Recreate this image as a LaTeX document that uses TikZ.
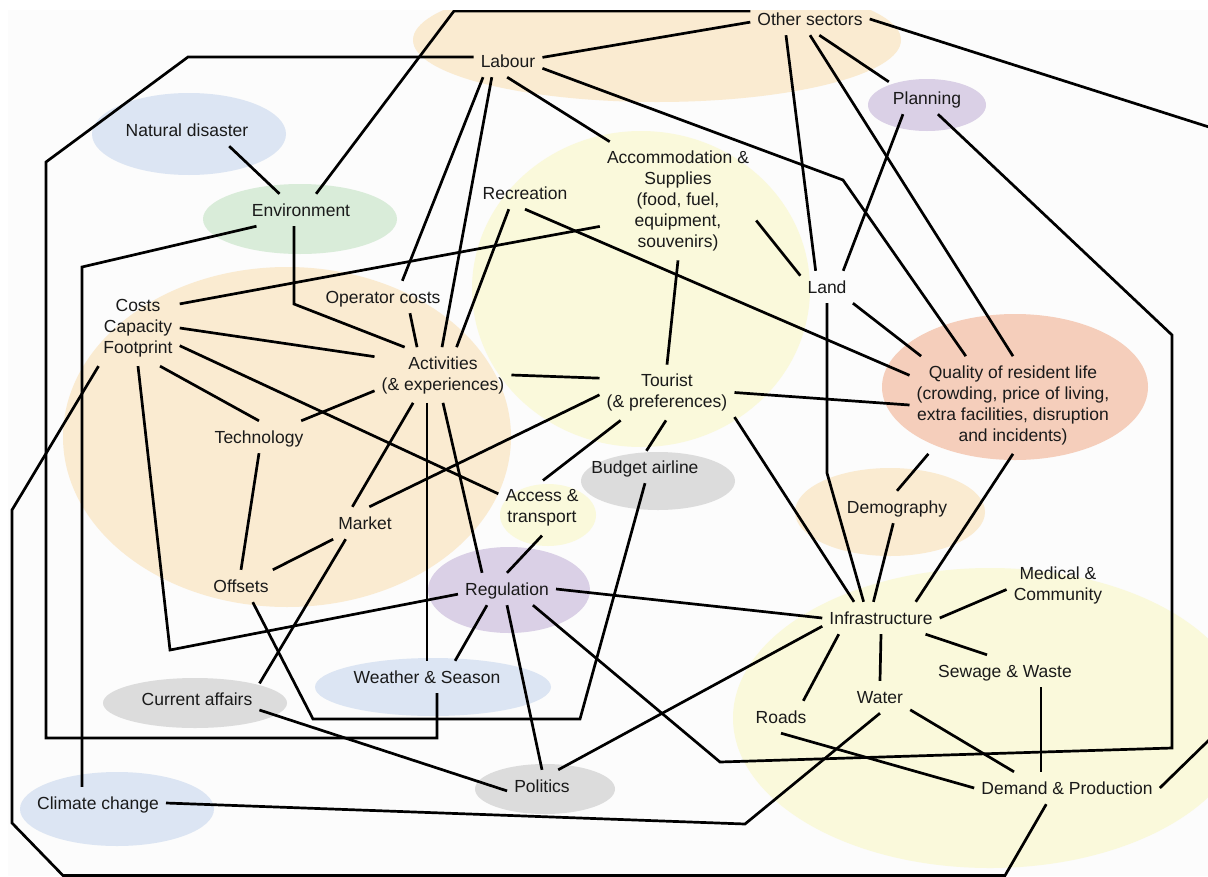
\documentclass[tikz,border=0pt]{standalone}
\usepackage{fontspec}
\setmainfont{Liberation Sans}
\definecolor{canvasbg}{HTML}{FCFCFC}
\definecolor{bgbeige}{HTML}{FAEBD1}
\definecolor{bgyellow}{HTML}{FAF9DB}
\definecolor{bgblue}{HTML}{DCE5F3}
\definecolor{bggreen}{HTML}{D9ECD9}
\definecolor{bglav}{HTML}{DAD0E6}
\definecolor{bggrey}{HTML}{DCDCDC}
\definecolor{bgsalmon}{HTML}{F5CEBB}
\definecolor{labeltext}{HTML}{1A1A1A}
\begin{document}
\begin{tikzpicture}[x=1pt,y=-1pt,
  lbl/.style={text=labeltext, font=\fontsize{17.5}{21}\selectfont, align=center,
              inner xsep=7pt, inner ysep=9pt},
  sgl/.style={lbl, text height=13pt, text depth=1pt},
  link/.style={draw=black, line width=2.7pt, line join=miter},
  blob/.style={fill=#1}]

\useasboundingbox (0,0) rectangle (1208,876);
\fill[white] (0,0) rectangle (1208,876);
\clip (8,10) rectangle (1208,876);
\fill[canvasbg] (8,10) rectangle (1208,876);

% large background regions
\fill[blob=bgbeige]  (287,437) ellipse [x radius=224pt, y radius=170pt];
\fill[blob=bgyellow] (641,289) ellipse [x radius=169pt, y radius=158pt];
\fill[blob=bgyellow] (990,718) ellipse [x radius=257pt, y radius=150pt];
\fill[blob=bgbeige]  (657,40)  ellipse [x radius=244pt, y radius=62pt];

% smaller highlighted factors
\fill[blob=bgblue]   (189,134) ellipse [x radius=97pt, y radius=41pt];
\fill[blob=bggreen]  (300,219) ellipse [x radius=97pt, y radius=35pt];
\fill[blob=bglav]    (927,105) ellipse [x radius=59pt, y radius=26pt];
\fill[blob=bgsalmon] (1015,387) ellipse [x radius=133pt, y radius=73pt];
\fill[blob=bggrey]   (658,481) ellipse [x radius=77pt, y radius=29pt];
\fill[blob=bgyellow] (548,515) ellipse [x radius=48pt, y radius=31pt];
\fill[blob=bgbeige]  (890,512) ellipse [x radius=95pt, y radius=44pt];
\fill[blob=bglav]    (509,590) ellipse [x radius=81pt, y radius=43pt];
\fill[blob=bgblue]   (433,687) ellipse [x radius=118pt, y radius=29pt];
\fill[blob=bggrey]   (195,703) ellipse [x radius=92pt, y radius=25pt];
\fill[blob=bggrey]   (545,789) ellipse [x radius=70pt, y radius=25pt];
\fill[blob=bgblue]   (117,809) ellipse [x radius=97pt, y radius=37pt];

% factors
\node[sgl] (oth)  at (810,19)  {Other sectors};
\node[sgl] (lab)  at (508,61)  {Labour};
\node[sgl] (plan) at (927,98)  {Planning};
\node[sgl] (nat)  at (187,130) {Natural disaster};
\node[sgl] (env)  at (301,210) {Environment};
\node[sgl] (rec)  at (525,193) {Recreation};
\node[lbl] (acc)  at (678,201) {Accommodation \&\\Supplies\\(food, fuel,\\equipment,\\souvenirs)};
\node[sgl] (land) at (827,287) {Land};
\node[lbl] (cost) at (138,328) {Costs\\Capacity\\Footprint};
\node[sgl] (opc)  at (383,297) {Operator costs};
\node[lbl] (act)  at (443,375) {Activities\\(\& experiences)};
\node[lbl] (tour) at (667,392.5) {Tourist\\(\& preferences)};
\node[lbl] (qual) at (1013,405) {Quality of resident life\\(crowding, price of living,\\extra facilities, disruption\\and incidents)};
\node[sgl] (tech) at (259,437) {Technology};
\node[sgl] (bud)  at (645,467) {Budget airline};
\node[lbl] (accs) at (542,508) {Access \&\\transport};
\node[sgl] (dem)  at (897,507) {Demography};
\node[sgl] (mkt)  at (365,523) {Market};
\node[lbl] (med)  at (1058,585) {Medical \&\\Community};
\node[sgl] (off)  at (241,586) {Offsets};
\node[sgl] (reg)  at (507,589) {Regulation};
\node[sgl] (inf)  at (881,618) {Infrastructure};
\node[sgl] (sew)  at (1005,671) {Sewage \& Waste};
\node[sgl] (wea)  at (427,677) {Weather \& Season};
\node[sgl] (wat)  at (880,697) {Water};
\node[sgl] (cur)  at (197,699) {Current affairs};
\node[sgl] (road) at (781,717) {Roads};
\node[sgl] (pol)  at (542,786) {Politics};
\node[sgl] (demp) at (1067,788) {Demand \& Production};
\node[sgl] (clim) at (98,803)  {Climate change};

% bend points of routed connectors
\coordinate (b1) at (188,57);
\coordinate (b2) at (46,162);
\coordinate (b3) at (46,738);
\coordinate (b4) at (437,738);
\coordinate (e1) at (454,11);
\coordinate (e2) at (82,267);
\coordinate (e3) at (294,304);
\coordinate (q1) at (843,180);
\coordinate (r1) at (1300,156);
\coordinate (r2) at (1250,700);
\coordinate (p1) at (1172,335);
\coordinate (p2) at (1172,748);
\coordinate (p3) at (720,762);
\coordinate (f1) at (170,650);
\coordinate (g1) at (12,510);
\coordinate (g2) at (12,823);
\coordinate (g3) at (63,875.5);
\coordinate (g4) at (1005,875.5);
\coordinate (o1) at (313,719);
\coordinate (o2) at (580,719);
\coordinate (l1) at (827,473);
\coordinate (s1) at (1041,730);
\coordinate (c1) at (745,824);

% routed connectors
\draw[link] (lab.west |- b1) -- (b1) -- (b2) -- (b3) -- (b4) -- (wea.south -| b4);
\draw[link] (env.47) -- (e1) -- (oth.west |- e1);
\draw[link] (env.200) -- (e2) -- (clim.north -| e2);
\draw[link] (env.south -| e3) -- (e3) -- (act.144);
\draw[link] (lab.-12) -- (q1) -- (qual.134);
\draw[link] (oth.east) -- (r1) -- (r2) -- (demp.east);
\draw[link] (plan.304) -- (p1) -- (p2) -- (p3) -- (reg.328);
\draw[link] (cost.south) -- (f1) -- (reg.186);
\draw[link] (cost.224) -- (g1) -- (g2) -- (g3) -- (g4) -- (demp.218);
\draw[link] (off.306) -- (o1) -- (o2) -- (bud.south);
\draw[link] (land.south) -- (l1) -- (inf.137);
\draw[link] (clim.east) -- (c1) -- (wat.south);

% straight connectors
\draw[link] (nat.-21) -- (env.143);
\draw[link] (lab.6) -- (oth.183);
\draw[link] (lab.213) -- (opc.40);
\draw[link] (lab.225) -- (act.92);
\draw[link] (lab.267) -- (acc.139);
\draw[link] (oth.214) -- (land.125);
\draw[link] (oth.270) -- (qual.90);
\draw[link] (oth.300) -- (plan.157);
\draw[link] (plan.214) -- (land.45);
\draw[link] (acc.198) -- (cost.30);
\draw[link] (acc.-14) -- (land.157);
\draw[link] (acc.south) -- (tour.north);
\draw[link] (rec.225) -- (act.64);
\draw[link] (rec.south) -- (qual.164);
\draw[link] (opc.329) -- (act.133);
\draw[link] (cost.east) -- (act.165);
\draw[link] (tech.21) -- (act.193);
\draw[link] (cost.-60) -- (tech.north);
\draw[link] (tech.south) -- (off.north);
\draw[link] (cost.-23.5) -- (accs.162);
\draw[link] (act.east) -- (tour.168);
\draw[link] (act.223) -- (mkt.128);
\draw[link] (act.south -| wea.north) -- (wea.north);
\draw[link] (act.south) -- (reg.147);
\draw[link] (mkt.75) -- (tour.182);
\draw[link] (mkt.207) -- (off.27);
\draw[link] (mkt.220) -- (cur.14);
\draw[link] (tour.211) -- (accs.88);
\draw[link] (tour.268) -- (bud.85);
\draw[link] (tour.east) -- (qual.west);
\draw[link] (tour.340) -- (inf.149);
\draw[link] (land.328) -- (qual.152);
\draw[link] (qual.210) -- (dem.north);
\draw[link] (qual.south) -- (inf.25);
\draw[link] (dem.257) -- (inf.115);
\draw[link] (inf.east) -- (med.185);
\draw[link] (reg.east) -- (inf.west);
\draw[link] (inf.188) -- (pol.45);
\draw[link] (inf.201) -- (road.36);
\draw[link] (inf.south) -- (wat.north);
\draw[link] (inf.340) -- (sew.138);
\draw[link] (sew.south -| s1) -- (demp.north -| s1);
\draw[link] (wat.337) -- (demp.163);
\draw[link] (road.south) -- (demp.west);
\draw[link] (cur.350) -- (pol.188);
\draw[link] (reg.219) -- (wea.30);
\draw[link] (reg.south) -- (pol.north);
\draw[link] (accs.south) -- (reg.north);

\end{tikzpicture}
\end{document}
